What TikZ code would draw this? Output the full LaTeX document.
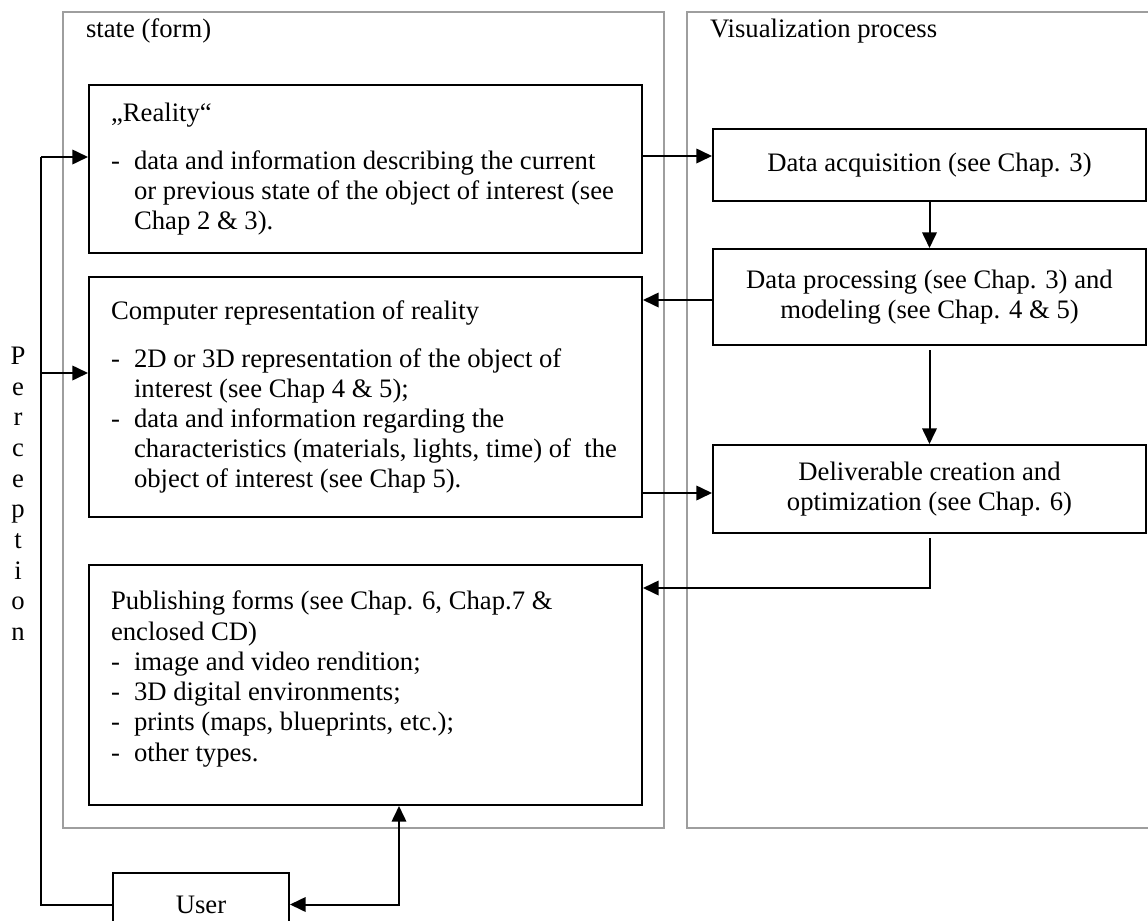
\documentclass[tikz,border=0pt]{standalone}
\usepackage{fontspec}
\setmainfont{Liberation Serif}
\usetikzlibrary{arrows.meta,fit}
\newcommand\dl[1]{\makebox[10.35pt][l]{-}\mbox{#1}}
\newcommand\il[1]{\hspace*{10.35pt}\mbox{#1}}
\begin{document}
\begin{tikzpicture}[x=0.45pt,y=-0.45pt,line width=0.9pt,
  every node/.style={font=\fontsize{12}{13.6}\selectfont,inner sep=0pt},
  frame/.style={draw=black!38},
  lbox/.style={draw,anchor=north west,text width=229pt,inner xsep=9.925pt,align=flush left,minimum height=108pt},
  rbox/.style={draw,anchor=north west,align=center,minimum width=194.85pt},
  arr/.style={-{Triangle[length=7pt,width=6.5pt]}},
  twoway/.style={{Triangle[length=7pt,width=6.5pt]}-{Triangle[length=7pt,width=6.5pt]}}]
\useasboundingbox (0,0) rectangle (1148,921);
\clip (0,0) rectangle (1148,921);
\node[frame,fit={(63,12) (664,828)}] (state) {};
\node[frame,fit={(687,12) (1170,828)}] (vis) {};
\node[anchor=base west] (statelbl) at (85,37) {state (form)};
\node[anchor=base west] (vislbl) at (709,37) {Visualization process};
\node[lbox,minimum height=75.6pt] (real) at (88,84) {„Reality“\\[8pt]
  \dl{data and information describing the current}\\
  \il{or previous state of the object of interest (see}\\
  \il{Chap 2 \& 3).}};
\node[lbox] (comp) at (88,276) {Computer representation of reality\\[8pt]
  \dl{2D or 3D representation of the object of}\\
  \il{interest (see Chap 4 \& 5);}\\
  \dl{data and information regarding the}\\
  \il{characteristics (materials, lights, time) of\ \ the}\\
  \il{object of interest (see Chap 5).}};
\node[lbox] (pub) at (88,564) {\mbox{Publishing forms (see Chap. 6, Chap.7 \&}\\
  enclosed CD)\\
  \dl{image and video rendition;}\\
  \dl{3D digital environments;}\\
  \dl{prints (maps, blueprints, etc.);}\\
  \dl{other types.}\rule[-8pt]{0pt}{0pt}};
\node[rbox,minimum height=32.4pt] (acq) at (712,128) {Data acquisition (see Chap. 3)};
\node[rbox,minimum height=43.2pt] (proc) at (712,248) {Data processing (see Chap. 3) and\\modeling (see Chap. 4 \& 5)};
\node[rbox,minimum height=39.6pt] (deliv) at (712,444) {Deliverable creation and\\optimization (see Chap. 6)};
\node[rbox,minimum width=79.2pt,minimum height=28.35pt] (user) at (112,872) {User};
\node[anchor=north,align=center,font=\fontsize{12}{13.8}\selectfont] (perc) at (18,346) {P\\e\\r\\c\\e\\p\\t\\i\\o\\n};
\coordinate (ptop) at (41,157);
\coordinate (pmid) at (41,373);
\draw (user.west) -| (ptop);
\draw[arr] (ptop) -- (ptop -| real.west);
\draw[arr] (pmid) -- (pmid -| comp.west);
\draw[arr] (real.east |- 0,156) -- (acq.west |- 0,156);
\draw[arr] (acq) -- (proc);
\draw[arr] (proc.west |- 0,300) -- (comp.east |- 0,300);
\draw[arr] ([yshift=-1.8pt]proc.south) -- (deliv.north);
\draw[arr] (comp.east |- 0,493) -- (deliv.west |- 0,493);
\draw[arr] ([yshift=-1.8pt]deliv.south) |- (pub.east |- 0,588);
\draw[twoway] (user.east) -| (pub.south -| 399,0);
\end{tikzpicture}
\end{document}
